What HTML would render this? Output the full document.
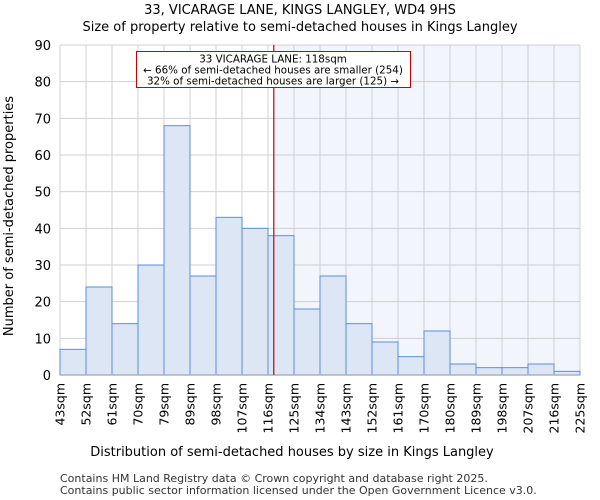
<!DOCTYPE html>
<html><head><meta charset="utf-8"><style>
body{margin:0;background:#fff}
svg{display:block;font-family:"DejaVu Sans","Liberation Sans",sans-serif}
</style></head><body>
<svg id="chart" width="600" height="500" viewBox="0 0 600 500">
<text x="300" y="14" text-anchor="middle" font-size="13">33, VICARAGE LANE, KINGS LANGLEY, WD4 9HS</text>
<text x="300" y="31" text-anchor="middle" font-size="13">Size of property relative to semi-detached houses in Kings Langley</text>
<g id="plot"></g>
<text x="292" y="456" text-anchor="middle" font-size="13">Distribution of semi-detached houses by size in Kings Langley</text>
<text transform="translate(13,216) rotate(-90)" text-anchor="middle" font-size="13">Number of semi-detached properties</text>
<text x="60" y="482" font-size="11" fill="#333">Contains HM Land Registry data © Crown copyright and database right 2025.</text>
<text x="60" y="494" font-size="11" fill="#333">Contains public sector information licensed under the Open Government Licence v3.0.</text>
</svg>
<script>
const binLabels=["43sqm","52sqm","61sqm","70sqm","79sqm","89sqm","98sqm","107sqm","116sqm","125sqm","134sqm","143sqm","152sqm","161sqm","170sqm","180sqm","189sqm","198sqm","207sqm","216sqm","225sqm"];
const counts=[7,24,14,30,68,27,43,40,38,18,27,14,9,5,12,3,2,2,3,1];
const yTicks=[0,10,20,30,40,50,60,70,80,90];
const markerBin=8+2/9; // 118sqm within 116-125 bin
const X0=60,X1=580,Y0=375,Y1=45,YMAX=90;
const NS="http://www.w3.org/2000/svg";
const g=document.getElementById('plot');
const bw=(X1-X0)/counts.length;
const xs=i=>X0+i*bw;
const ys=v=>Y0-(v/YMAX)*(Y0-Y1);
function mk(t,a){const e=document.createElementNS(NS,t);for(const k in a)e.setAttribute(k,a[k]);g.appendChild(e);return e;}
const mx=xs(markerBin);
let sh=mk('rect',{x:mx,y:Y1,width:X1-mx,height:Y0-Y1,fill:'#f2f5fc'});


for(let i=0;i<binLabels.length;i++){
 let l=mk('line',{x1:xs(i),x2:xs(i),y1:Y1,y2:Y0,stroke:'#d0d0d0','stroke-width':1});
 
 
 let t=mk('text',{transform:`translate(${xs(i)+4.5},383) rotate(-90)`,'text-anchor':'end','font-size':12.5});
 t.textContent=binLabels[i];
 
 
}
yTicks.forEach(v=>{
 let l=mk('line',{x1:X0,x2:X1,y1:ys(v),y2:ys(v),stroke:'#d0d0d0','stroke-width':1});
 
 
 let t=mk('text',{x:X0-9,y:ys(v)+5,'text-anchor':'end','font-size':13});
 t.textContent=v;
 
 
});
counts.forEach((c,i)=>{
 let r=mk('rect',{x:xs(i),y:ys(c),width:bw,height:Y0-ys(c),fill:'#dce6f4',stroke:'#5b8fd6','stroke-width':1});
 
 
});
let ax=mk('line',{x1:X0,x2:X1,y1:Y0,y2:Y0,stroke:'#aab4c4','stroke-width':1.5});


let ml=mk('line',{x1:mx,x2:mx,y1:Y1,y2:Y0,stroke:'#cc0000','stroke-width':1.2});


let box=mk('rect',{x:136.5,y:51.5,width:274,height:36,fill:'#fff',stroke:'#cc0000','stroke-width':1});


["33 VICARAGE LANE: 118sqm","← 66% of semi-detached houses are smaller (254)","32% of semi-detached houses are larger (125) →"].forEach((s,i)=>{
 let t=mk('text',{x:273,y:62.5+i*11,'text-anchor':'middle','font-size':10.3});
 t.textContent=s;
 
 
});
</script>
</body></html>
